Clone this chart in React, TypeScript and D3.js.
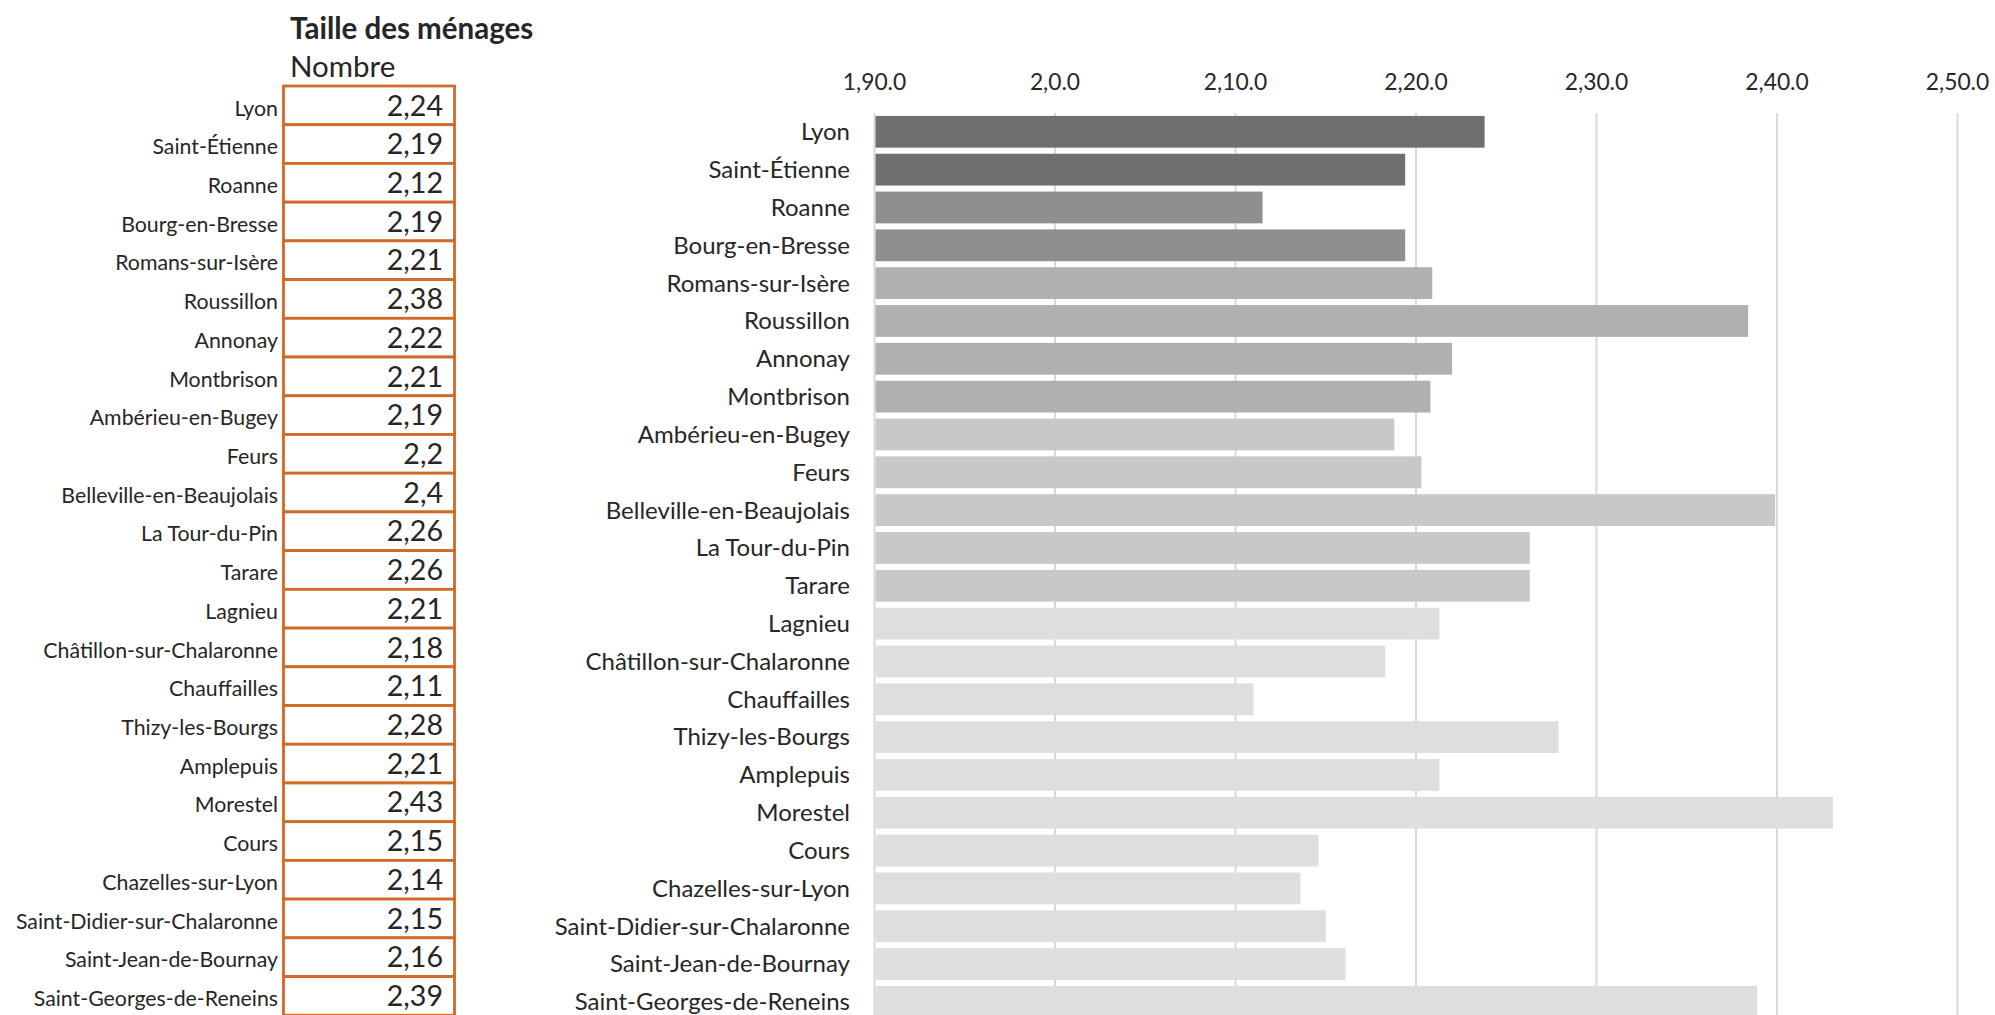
import React from "react";
import * as d3 from "d3";

const cities = [
  "Lyon", "Saint-Étienne", "Roanne", "Bourg-en-Bresse", "Romans-sur-Isère",
  "Roussillon", "Annonay", "Montbrison", "Ambérieu-en-Bugey", "Feurs",
  "Belleville-en-Beaujolais", "La Tour-du-Pin", "Tarare", "Lagnieu",
  "Châtillon-sur-Chalaronne", "Chauffailles", "Thizy-les-Bourgs", "Amplepuis",
  "Morestel", "Cours", "Chazelles-sur-Lyon", "Saint-Didier-sur-Chalaronne",
  "Saint-Jean-de-Bournay", "Saint-Georges-de-Reneins",
];

const tableValues = [
  "2,24", "2,19", "2,12", "2,19", "2,21", "2,38", "2,22", "2,21", "2,19", "2,2",
  "2,4", "2,26", "2,26", "2,21", "2,18", "2,11", "2,28", "2,21", "2,43", "2,15",
  "2,14", "2,15", "2,16", "2,39",
];

const barValues = [
  2.238, 2.194, 2.115, 2.194, 2.209, 2.384, 2.220, 2.208, 2.188, 2.203,
  2.399, 2.263, 2.263, 2.213, 2.183, 2.110, 2.279, 2.213, 2.431, 2.146,
  2.136, 2.150, 2.161, 2.389,
];

// size class of each city (drives the bar shade)
const groups = [0, 0, 1, 1, 2, 2, 2, 2, 3, 3, 3, 3, 3, 4, 4, 4, 4, 4, 4, 4, 4, 4, 4, 4];
const groupColors = ["#706e6f", "#8f8f8f", "#b0b0b0", "#c8c8c8", "#dedede"];

const tickValues = [1.9, 2.0, 2.1, 2.2, 2.3, 2.4, 2.5];
const tickLabels = ["1,90.0", "2,0.0", "2,10.0", "2,20.0", "2,30.0", "2,40.0", "2,50.0"];

const title = "Taille des ménages";
const subtitle = "Nombre";

const FONT = "Lato, 'Open Sans', sans-serif";

export default function App() {
  const W = 1995;
  const H = 1015;

  const x = d3.scaleLinear().domain([1.9, 2.5]).range([874.5, 1957.5]);
  const barStep = 37.83;
  const yBar = d3
    .scaleBand<string>()
    .domain(cities)
    .range([112.9, 112.9 + barStep * cities.length])
    .paddingInner(0.16)
    .paddingOuter(0.08);

  const rowStep = 38.72;
  const yRow = d3
    .scaleBand<string>()
    .domain(cities)
    .range([86, 86 + rowStep * cities.length]);

  const tableLeft = 283.5;
  const tableRight = 454.5;

  return (
    <svg
      width={W}
      height={H}
      style={{ position: "absolute", left: 0, top: 0, background: "#fff" }}
      fontFamily={FONT}
    >
      {/* Title */}
      <text x={290} y={39} fontSize={29.5} fontWeight={700} fill="#262626">
        {title}
      </text>
      <text x={290} y={77} fontSize={29.5} fill="#262626">
        {subtitle}
      </text>

      {/* Table */}
      {cities.map((c, i) => {
        const y0 = yRow(c)!;
        return (
          <g key={"row" + i}>
            <rect
              x={tableLeft}
              y={y0}
              width={tableRight - tableLeft}
              height={yRow.bandwidth()}
              fill="#fff"
              stroke="#cf6a27"
              strokeWidth={2.8}
            />
            <text x={278} y={y0 + 29.5} fontSize={21.3} textAnchor="end" fill="#262626">
              {c}
            </text>
            <text x={443} y={y0 + 29.5} fontSize={28.6} textAnchor="end" fill="#262626">
              {tableValues[i]}
            </text>
          </g>
        );
      })}

      {/* Gridlines */}
      {tickValues.map((t, i) => (
        <g key={"tick" + i}>
          <line
            x1={x(t)}
            x2={x(t)}
            y1={113}
            y2={H}
            stroke="#d9d9d9"
            strokeWidth={2}
          />
          <text x={x(t)} y={90} fontSize={22.8} textAnchor="middle" fill="#262626">
            {tickLabels[i]}
          </text>
        </g>
      ))}

      {/* Bars */}
      {cities.map((c, i) => {
        const y0 = yBar(c)!;
        return (
          <g key={"bar" + i}>
            <rect
              x={x(1.9) + 1}
              y={y0}
              width={x(barValues[i]) - x(1.9) - 1}
              height={yBar.bandwidth()}
              fill={groupColors[groups[i]]}
            />
            <text
              x={850}
              y={y0 + yBar.bandwidth() / 2}
              dy="0.35em"
              fontSize={24}
              textAnchor="end"
              fill="#262626"
            >
              {c}
            </text>
          </g>
        );
      })}
    </svg>
  );
}
